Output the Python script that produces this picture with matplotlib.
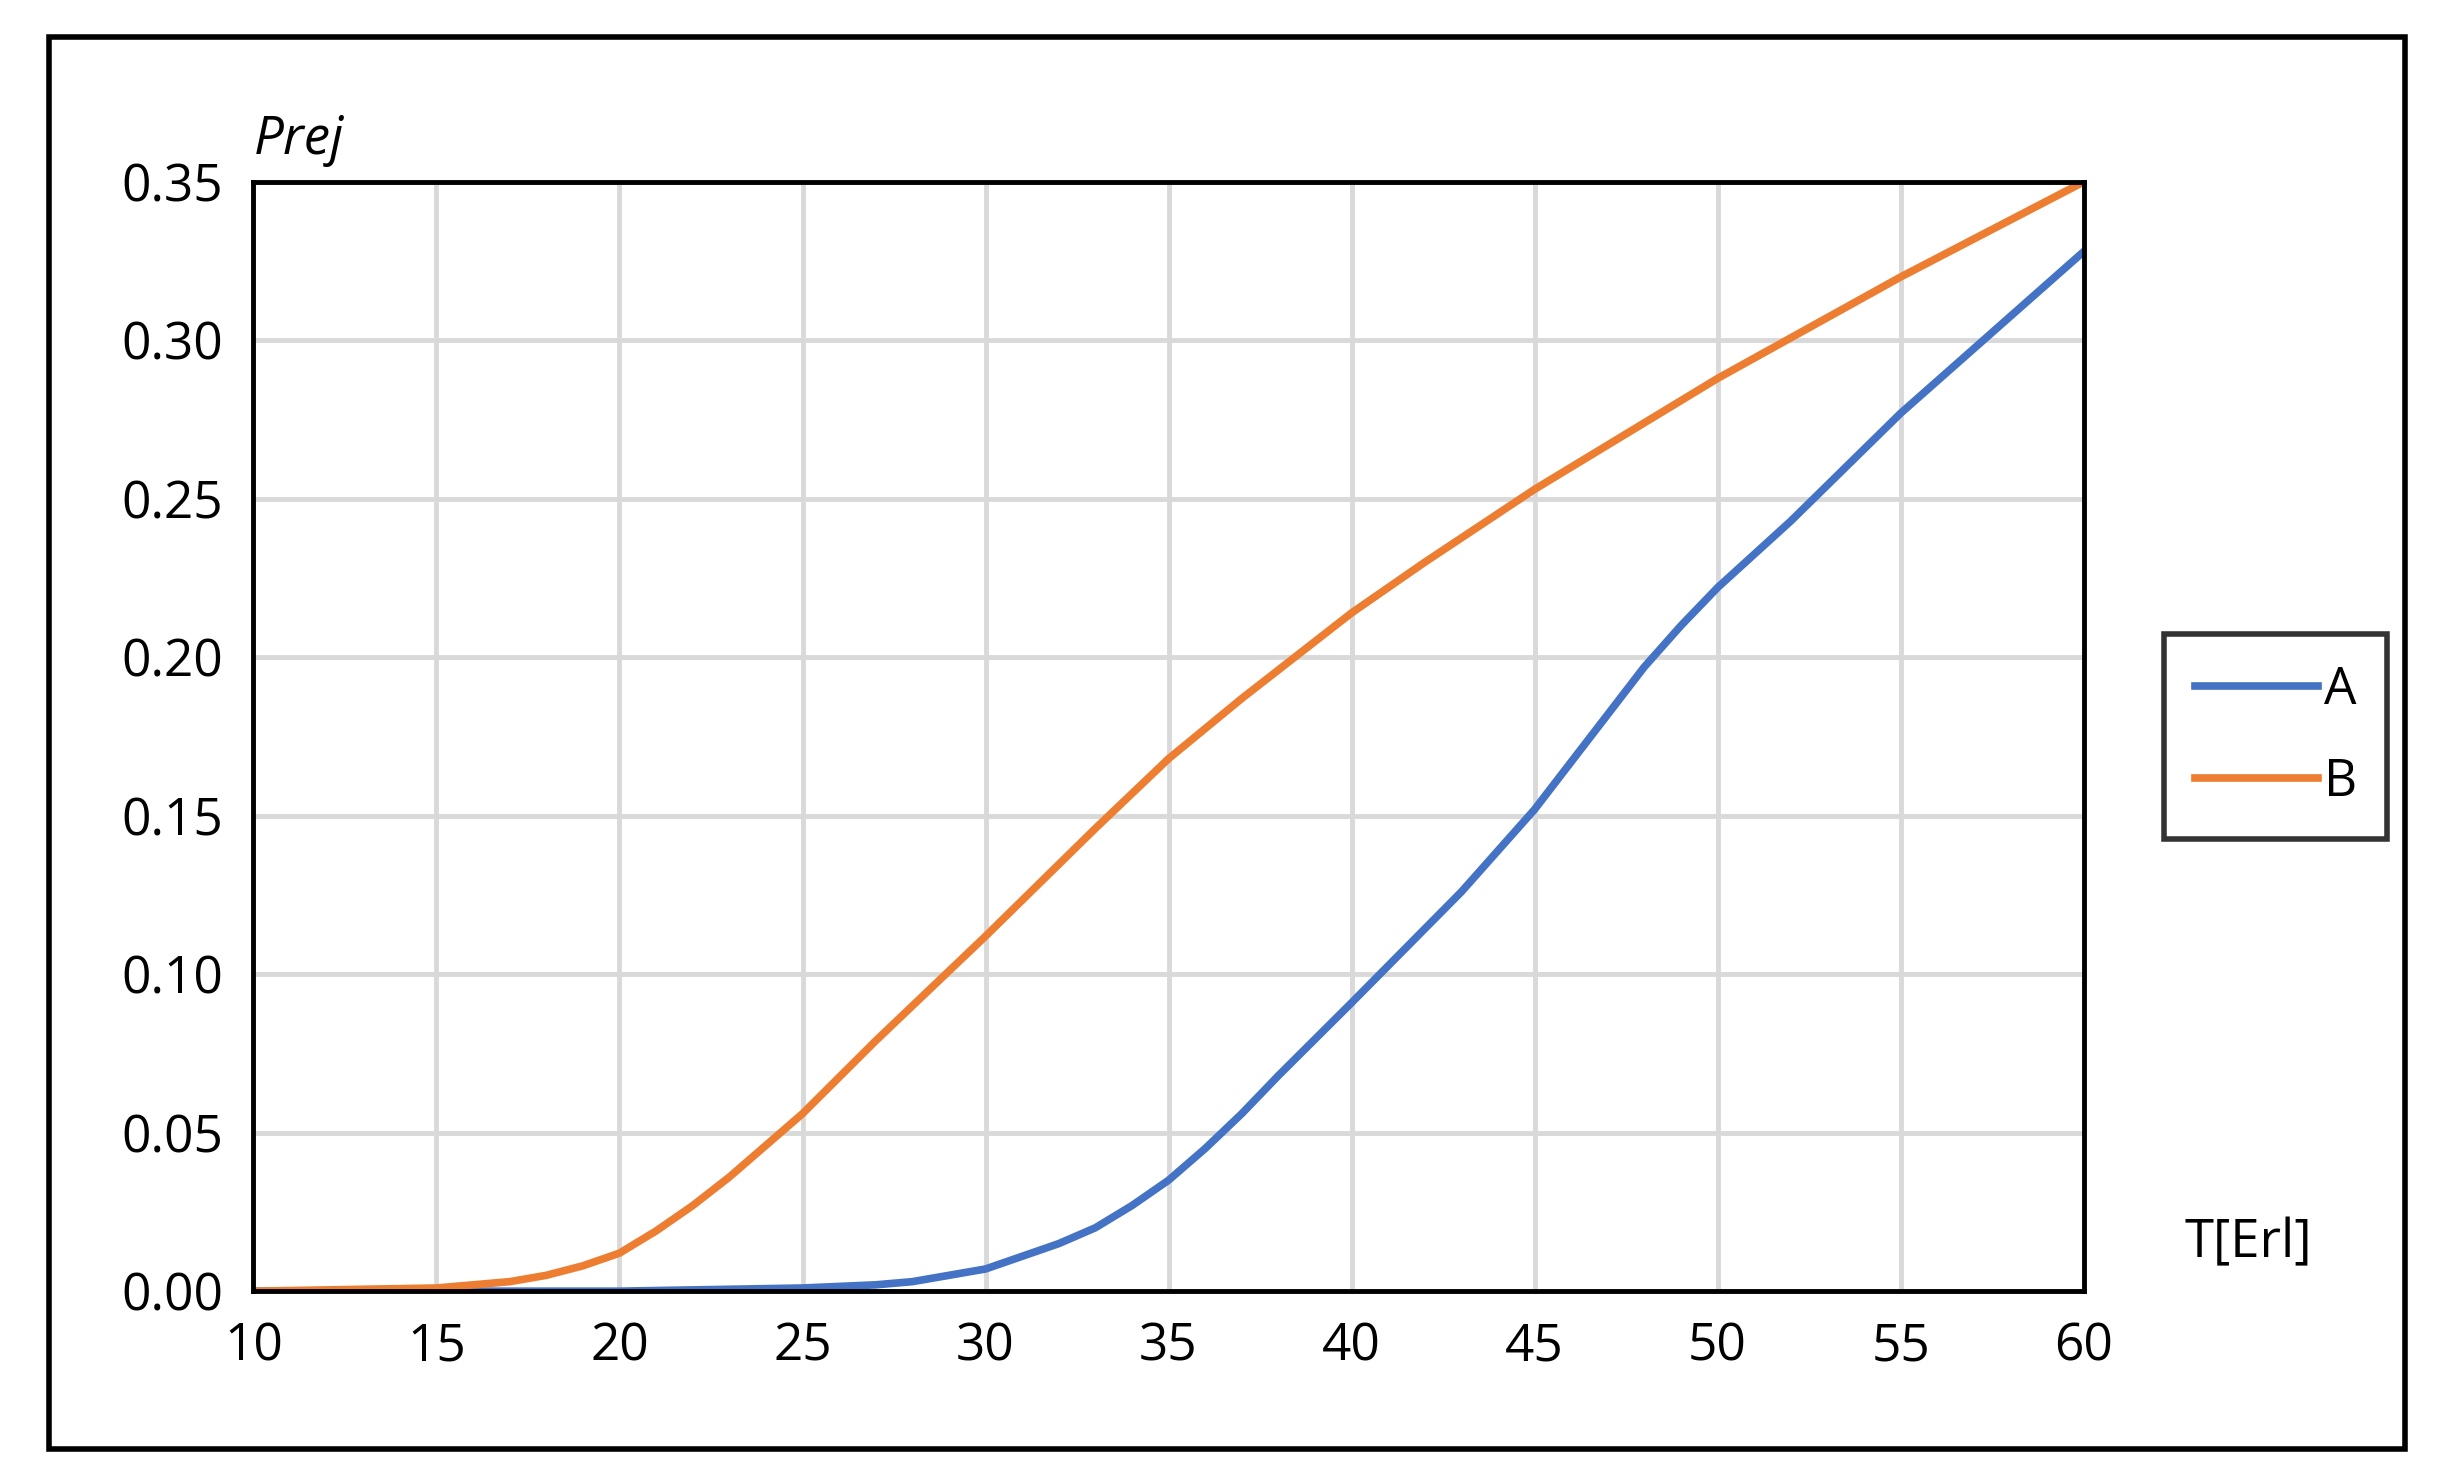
import matplotlib
matplotlib.use('Agg')
import matplotlib.pyplot as plt
from matplotlib.patches import Rectangle

t_b = [10, 15, 16, 17, 18, 19, 20, 21, 22, 23, 25, 27, 30, 33, 35, 37, 38, 40, 42, 45, 48, 50, 55, 60]
p_b = [0.0, 0.001, 0.002, 0.003, 0.005, 0.008, 0.012, 0.019, 0.027, 0.036, 0.056, 0.079, 0.112, 0.146, 0.168, 0.187, 0.196, 0.214, 0.230, 0.253, 0.274, 0.288, 0.320, 0.350]
t_a = [10, 20, 25, 27, 28, 29, 30, 31, 32, 33, 34, 35, 36, 37, 38, 40, 43, 45, 47, 48, 49, 50, 52, 55, 60]
p_a = [0.0, 0.0, 0.001, 0.002, 0.003, 0.005, 0.007, 0.011, 0.015, 0.020, 0.027, 0.035, 0.045, 0.056, 0.068, 0.091, 0.126, 0.152, 0.182, 0.197, 0.210, 0.222, 0.243, 0.277, 0.328]
x_ticks = list(range(10, 61, 5))
y_ticks = [0.0, 0.05, 0.10, 0.15, 0.20, 0.25, 0.30, 0.35]

plt.rcParams['font.family'] = ['Open Sans', 'DejaVu Sans']
fig = plt.figure(figsize=(24.37, 14.79), dpi=100)
ax = fig.add_axes([0.104, 0.127, 0.751, 0.750])
ax.plot(t_a, p_a, color='#4472C4', lw=5.5, label='A')
ax.plot(t_b, p_b, color='#ED7D31', lw=5.5, label='B')
ax.set_xlim(10, 60)
ax.set_ylim(0, 0.35)
ax.set_xticks(x_ticks)
ax.set_yticks(y_ticks)
ax.set_yticklabels(['%.2f' % v for v in y_ticks])
ax.grid(True, color='#d9d9d9', lw=3.5)
ax.set_axisbelow(True)
for s in ax.spines.values():
    s.set_linewidth(3.5)
ax.tick_params(length=0, labelsize=37, pad=22)
ax.text(0.0, 1.025, 'Prej', transform=ax.transAxes, fontsize=38, style='italic')
ax.text(1.055, 0.03, 'T[Erl]', transform=ax.transAxes, fontsize=38)
leg = ax.legend(loc='center left', bbox_to_anchor=(1.03, 0.5), fontsize=37,
                frameon=True, fancybox=False, edgecolor='black', handlelength=2.4,
                borderpad=0.6, labelspacing=0.8, handletextpad=0.1)
leg.get_frame().set_linewidth(4)
fig.patches.append(Rectangle((0.02, 0.02), 0.967, 0.955, transform=fig.transFigure,
                             fill=False, edgecolor='black', lw=4))
fig.savefig('out.png', dpi=100)
